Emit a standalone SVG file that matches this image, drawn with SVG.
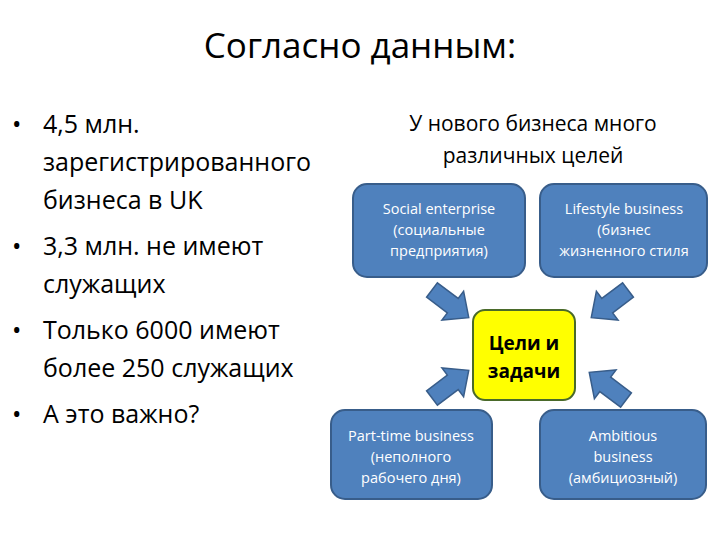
<svg xmlns="http://www.w3.org/2000/svg" width="720" height="540" viewBox="0 0 720 540">
<style>
text{font-family:"Open Sans","Liberation Sans",sans-serif;fill:#000}
.box{fill:#4f81bd;stroke:#385d8a;stroke-width:2}
.bt{fill:#fff;font-size:14.5px;text-anchor:middle}
.b{font-size:25px}
</style>
<defs>
<polygon id="arr" points="0,-9 26,-9 26,-18 46,0 26,18 26,9 0,9" fill="#4f81bd" stroke="#385d8a" stroke-width="1.5"/>
</defs>
<rect width="720" height="540" fill="#fff"/>
<text x="360" y="58" font-size="35" text-anchor="middle">Согласно данным:</text>
<g id="bullets" class="b">
<text class="b" x="12" y="133">•</text><text class="b" x="43" y="133">4,5 млн.</text>
<text class="b" x="43" y="171">зарегистрированного</text>
<text class="b" x="43" y="209">бизнеса в UK</text>
<text class="b" x="12" y="255">•</text><text class="b" x="43" y="255">3,3 млн. не имеют</text>
<text class="b" x="43" y="293">служащих</text>
<text class="b" x="12" y="339">•</text><text class="b" x="43" y="339">Только 6000 имеют</text>
<text class="b" x="43" y="377">более 250 служащих</text>
<text class="b" x="12" y="423">•</text><text class="b" x="43" y="423">А это важно?</text>
</g>
<g id="heading"><text x="533" y="131" font-size="21" text-anchor="middle">У нового бизнеса много</text>
<text x="533" y="163" font-size="21" text-anchor="middle">различных целей</text></g>
<g id="connectors">
<use href="#arr" transform="translate(432,290) rotate(37)"/>
<use href="#arr" transform="translate(628,290) rotate(143)"/>
<use href="#arr" transform="translate(432,398) rotate(-37)"/>
<use href="#arr" transform="translate(626,400) rotate(-143)"/>
</g>
<g id="social"><rect class="box" x="353" y="184" width="172" height="93" rx="14"/>
<text class="bt" x="439" y="214">Social enterprise</text><text class="bt" x="439" y="235">(социальные</text><text class="bt" x="439" y="256">предприятия)</text></g>
<g id="lifestyle"><rect class="box" x="540" y="184" width="167" height="93" rx="14"/>
<text class="bt" x="624" y="214">Lifestyle business</text><text class="bt" x="624" y="235">(бизнес</text><text class="bt" x="624" y="256">жизненного стиля</text></g>
<g id="center"><rect x="473" y="310" width="102" height="90" rx="12" fill="#ffff00" stroke="#4a6a2a" stroke-width="2"/>
<text x="524" y="350" font-size="19" font-weight="bold" text-anchor="middle">Цели и</text>
<text x="524" y="378" font-size="19" font-weight="bold" text-anchor="middle">задачи</text></g>
<g id="parttime"><rect class="box" x="331" y="410" width="161" height="89" rx="14"/>
<text class="bt" x="411" y="441">Part-time business</text><text class="bt" x="411" y="462">(неполного</text><text class="bt" x="411" y="483">рабочего дня)</text></g>
<g id="ambitious"><rect class="box" x="540" y="410" width="166" height="89" rx="14"/>
<text class="bt" x="623" y="441">Ambitious</text><text class="bt" x="623" y="462">business</text><text class="bt" x="623" y="483">(амбициозный)</text></g>
</svg>
